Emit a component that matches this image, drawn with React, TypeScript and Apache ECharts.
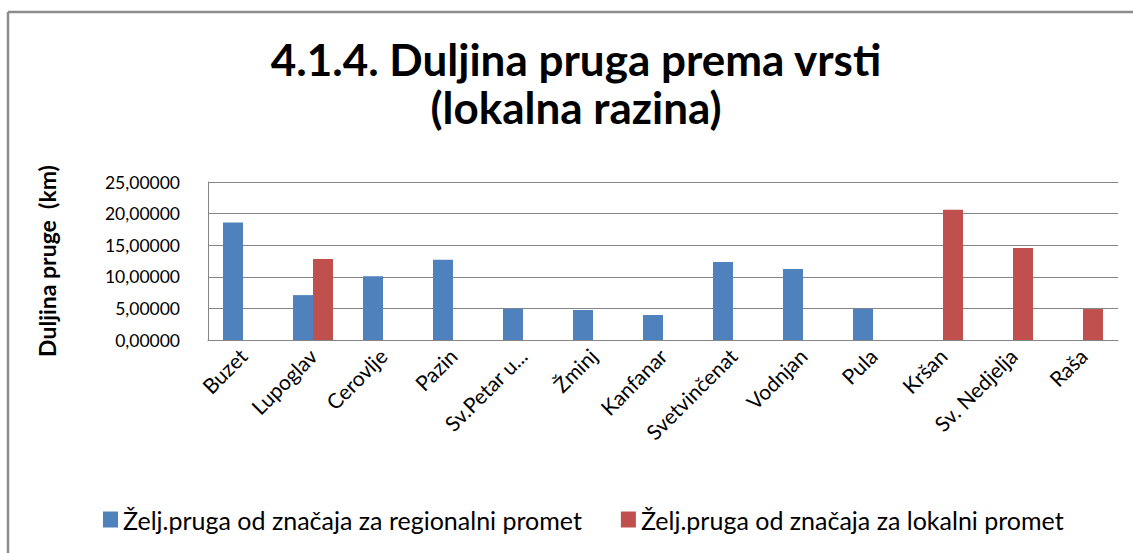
import React, { useEffect, useRef } from "react";
import * as echarts from "echarts";

const categories = [
  "Buzet",
  "Lupoglav",
  "Cerovlje",
  "Pazin",
  "Sv.Petar u...",
  "Žminj",
  "Kanfanar",
  "Svetvinčenat",
  "Vodnjan",
  "Pula",
  "Kršan",
  "Sv. Nedjelja",
  "Raša",
];

const regionalValues = [18.6, 7.1, 10.1, 12.7, 4.95, 4.75, 3.95, 12.35, 11.25, 4.95, null, null, null];
const localValues = [null, 12.8, null, null, null, null, null, null, null, null, 20.6, 14.55, 4.9];

const seriesNames = [
  "Želj.pruga od značaja za regionalni promet",
  "Želj.pruga od značaja za lokalni promet",
];

const titleLines = ["4.1.4. Duljina pruga prema vrsti", "(lokalna razina)"];

const yTicks = { min: 0, max: 25, interval: 5 };

const FONT = "Lato, 'Open Sans', sans-serif";

export default function App() {
  const ref = useRef<HTMLDivElement>(null);

  useEffect(() => {
    if (!ref.current) return;
    const chart = echarts.init(ref.current, null, { renderer: "svg" });
    const titleStyle = {
      fontFamily: FONT,
      fontSize: 44,
      fontWeight: "bold",
      lineHeight: 44,
      color: "#000000",
    };
    chart.setOption({
      animation: false,
      backgroundColor: "#ffffff",
      textStyle: { fontFamily: FONT },
      title: [
        {
          text: titleLines[0],
          left: 576,
          textAlign: "center",
          top: 37,
          padding: 0,
          textStyle: titleStyle,
        },
        {
          text: titleLines[1],
          left: 576,
          textAlign: "center",
          top: 85,
          padding: 0,
          textStyle: titleStyle,
        },
      ],
      graphic: [
        {
          type: "line",
          shape: { x1: 8, y1: 12, x2: 1133, y2: 12 },
          style: { stroke: "#8c8c8c", lineWidth: 2.5 },
        },
        {
          type: "line",
          shape: { x1: 8, y1: 12, x2: 8, y2: 553 },
          style: { stroke: "#8c8c8c", lineWidth: 2.5 },
        },
      ],
      legend: {
        left: 103,
        top: 507,
        padding: 0,
        itemWidth: 15,
        itemHeight: 16,
        itemGap: 39,
        icon: "rect",
        textStyle: { fontFamily: FONT, fontSize: 25, color: "#000000" },
        data: seriesNames,
      },
      grid: { left: 208, right: 15, top: 182, bottom: 213 },
      xAxis: {
        type: "category",
        data: categories,
        axisLine: { show: true, lineStyle: { color: "#868686", width: 1 } },
        axisTick: { show: false },
        axisLabel: {
          rotate: 45,
          interval: 0,
          fontFamily: FONT,
          fontSize: 21,
          color: "#000000",
          margin: 12,
        },
      },
      yAxis: {
        type: "value",
        min: yTicks.min,
        max: yTicks.max,
        interval: yTicks.interval,
        name: "Duljina pruge  (km)",
        nameLocation: "middle",
        nameGap: 150,
        nameTextStyle: {
          fontFamily: FONT,
          fontSize: 23,
          fontWeight: "bold",
          color: "#000000",
        },
        axisLine: { show: true, lineStyle: { color: "#868686", width: 1 } },
        axisTick: { show: false },
        splitLine: { lineStyle: { color: "#868686", width: 1 } },
        axisLabel: {
          fontFamily: FONT,
          fontSize: 17.5,
          color: "#000000",
          margin: 28,
          formatter: (v: number) => v.toFixed(5).replace(".", ","),
        },
      },
      series: [
        {
          name: seriesNames[0],
          type: "bar",
          data: regionalValues,
          barWidth: 20,
          barGap: "0%",
          itemStyle: { color: "#4F81BD" },
        },
        {
          name: seriesNames[1],
          type: "bar",
          data: localValues,
          barWidth: 20,
          barGap: "0%",
          itemStyle: { color: "#C0504D" },
        },
      ],
    });
    return () => chart.dispose();
  }, []);

  return (
    <div
      ref={ref}
      style={{ position: "fixed", left: 0, top: 0, width: 1133, height: 553 }}
    />
  );
}
